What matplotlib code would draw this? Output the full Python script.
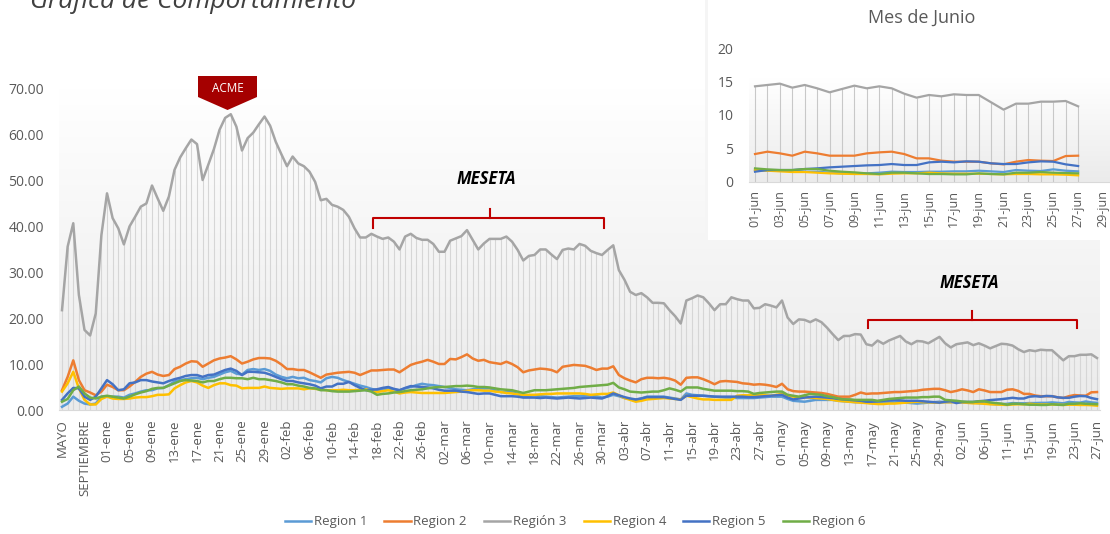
import matplotlib.pyplot as plt
import numpy as np
from matplotlib.patches import Polygon, Rectangle
from matplotlib.colors import LinearSegmentedColormap

plt.rcParams['font.family'] = ['Open Sans', 'DejaVu Sans']

# categorias del eje x
meses = ["MAYO", "JUNIO", "JULIO", "AGOSTO", "SEPTIEMBRE", "OCTUBRE", "NOVIEMBRE", "DICIEMBRE"]
mes_abr = ["ene", "feb", "mar", "abr", "may", "jun"]
dias_mes = [31, 28, 31, 30, 31, 27]
fechas = [f"{d:02d}-{m}" for m, n in zip(mes_abr, dias_mes) for d in range(1, n + 1)]
fechas.remove("10-jun")  # dia sin dato en la grafica principal
categorias = meses + fechas
dias_junio = [f"{d:02d}-jun" for d in range(1, 30)]

# valores hasta el 31-may (indices 0..158)
region3 = [21.7, 35.5, 40.6, 25.0, 17.4, 16.2, 21.0, 38.0, 47.1, 41.7,
           39.5, 36.0, 39.9, 42.0, 44.2, 44.9, 48.8, 46.0, 43.3, 46.4,
           52.2, 54.9, 56.9, 58.8, 57.8, 50.0, 53.3, 56.7, 60.9, 63.5,
           64.3, 61.6, 56.4, 59.1, 60.3, 62.1, 63.8, 61.8, 58.3, 55.6,
           53.0, 55.1, 53.6, 53.0, 51.8, 49.6, 45.6, 45.9, 44.6, 44.2,
           43.5, 42.0, 39.5, 37.5, 37.5, 38.3, 37.7, 37.2, 37.5, 36.6,
           34.9, 37.7, 38.3, 37.4, 37.0, 37.0, 36.1, 34.4, 34.4, 36.8,
           37.3, 37.8, 39.1, 37.0, 34.9, 36.2, 37.2, 37.2, 37.2, 37.7,
           36.6, 34.8, 32.5, 33.5, 33.7, 34.9, 34.9, 33.8, 32.8, 34.8,
           35.1, 34.9, 36.1, 35.7, 34.6, 34.1, 33.7, 34.8, 35.8, 30.4,
           28.3, 25.7, 25.0, 25.4, 24.5, 23.3, 23.3, 23.2, 21.7, 20.4,
           18.8, 23.8, 24.3, 24.9, 24.5, 23.2, 21.7, 23.0, 23.0, 24.5,
           24.1, 23.8, 23.8, 22.1, 22.2, 23.0, 22.7, 22.3, 23.8, 20.1,
           18.7, 19.7, 19.6, 19.1, 19.7, 19.1, 17.9, 16.5, 15.2, 16.1,
           16.1, 16.5, 16.4, 14.3, 14.0, 15.1, 14.4, 15.1, 15.6, 16.1,
           14.9, 14.3, 15.0, 14.9, 14.5, 15.2, 15.9, 14.5, 13.6]
region2 = [4.3, 7.2, 10.8, 6.5, 4.3, 3.8, 3.2, 4.0, 5.5, 5.0,
           4.3, 4.3, 5.1, 6.1, 7.2, 7.9, 8.3, 7.7, 7.4, 7.6,
           8.9, 9.4, 10.1, 10.6, 10.5, 9.4, 10.1, 10.8, 11.2, 11.4,
           11.7, 11.0, 10.1, 10.5, 11.0, 11.3, 11.3, 11.2, 10.7, 9.9,
           8.9, 8.9, 8.7, 8.7, 8.2, 7.6, 7.0, 7.7, 7.9, 8.1,
           8.2, 8.3, 8.1, 7.6, 8.1, 8.6, 8.6, 8.7, 8.8, 8.8,
           8.2, 9.0, 9.8, 10.2, 10.5, 10.9, 10.5, 10.0, 10.0, 11.1,
           11.0, 11.5, 12.1, 11.2, 10.7, 10.9, 10.4, 10.2, 10.0, 10.5,
           10.0, 9.3, 8.2, 8.6, 8.8, 9.0, 8.9, 8.7, 8.2, 9.4,
           9.6, 9.8, 9.7, 9.6, 9.2, 8.7, 9.0, 9.0, 9.5, 7.6,
           6.9, 6.4, 6.0, 6.7, 7.0, 7.0, 6.9, 7.0, 6.8, 6.4,
           5.5, 7.0, 7.1, 7.1, 6.7, 6.2, 5.6, 6.2, 6.3, 6.2,
           6.1, 5.8, 5.7, 5.5, 5.6, 5.5, 5.3, 5.0, 5.7, 4.5,
           4.1, 4.0, 4.0, 3.9, 3.8, 3.7, 3.5, 3.2, 2.9, 2.9,
           2.9, 3.3, 3.8, 3.5, 3.6, 3.6, 3.7, 3.8, 3.9, 3.9,
           4.0, 4.1, 4.2, 4.4, 4.5, 4.6, 4.6, 4.3, 3.9]
region5 = [2.2, 3.6, 4.8, 4.7, 2.9, 2.2, 2.9, 4.7, 6.5, 5.6,
           4.3, 4.5, 5.8, 6.0, 6.5, 6.5, 6.2, 6.0, 5.8, 6.3,
           6.7, 7.0, 7.4, 7.6, 7.6, 7.2, 7.6, 7.7, 8.2, 8.7,
           9.0, 8.5, 7.6, 8.3, 8.3, 8.2, 8.1, 7.7, 7.2, 6.7,
           6.3, 6.3, 6.0, 5.8, 5.6, 5.3, 4.7, 5.1, 5.1, 5.7,
           5.7, 6.1, 5.4, 4.8, 4.3, 4.4, 4.5, 4.8, 5.0, 4.6,
           4.3, 4.8, 5.2, 5.1, 5.0, 4.9, 4.7, 4.4, 4.2, 4.2,
           4.2, 4.0, 3.9, 3.7, 3.5, 3.6, 3.6, 3.3, 3.0, 3.0,
           3.0, 2.9, 2.7, 2.7, 2.7, 2.6, 2.7, 2.6, 2.5, 2.6,
           2.7, 2.6, 2.5, 2.6, 2.7, 2.6, 2.5, 3.0, 3.6, 3.2,
           2.8, 2.5, 2.3, 2.5, 2.8, 2.8, 2.8, 2.8, 2.6, 2.4,
           2.2, 3.1, 3.1, 3.1, 3.1, 3.0, 2.9, 2.9, 2.9, 2.9,
           2.9, 2.9, 2.8, 2.8, 2.9, 3.0, 3.1, 3.2, 3.3, 2.7,
           2.3, 2.5, 2.7, 2.8, 2.9, 2.8, 2.7, 2.6, 2.4, 2.3,
           2.2, 2.1, 2.0, 1.8, 1.8, 1.9, 2.0, 2.1, 2.2, 2.1,
           2.0, 2.0, 2.0, 1.9, 1.8, 1.7, 1.6, 1.8, 1.9]
region1 = [0.7, 1.4, 2.9, 2.0, 1.4, 1.2, 1.4, 2.9, 2.9, 2.9,
           2.9, 2.7, 3.3, 3.6, 4.0, 4.3, 4.3, 4.7, 4.8, 5.4,
           6.2, 6.5, 6.7, 6.9, 7.0, 6.7, 7.0, 7.2, 7.7, 8.2,
           8.5, 7.9, 7.7, 8.7, 8.9, 8.7, 8.9, 8.5, 7.7, 7.2,
           6.9, 7.2, 6.9, 7.0, 6.5, 6.3, 6.0, 6.9, 7.2, 7.0,
           6.5, 6.1, 5.7, 5.3, 5.0, 4.6, 4.3, 4.5, 4.7, 4.5,
           4.3, 4.7, 5.0, 5.4, 5.7, 5.5, 5.4, 5.2, 5.0, 4.8,
           4.5, 4.4, 4.3, 4.5, 4.7, 4.7, 4.7, 4.3, 3.9, 3.9,
           3.9, 3.5, 3.0, 3.1, 3.2, 3.0, 2.9, 2.8, 2.7, 2.8,
           2.9, 3.0, 3.0, 3.1, 3.2, 3.0, 2.7, 2.9, 3.3, 3.0,
           2.6, 2.4, 2.2, 2.5, 2.9, 2.9, 2.9, 2.9, 2.7, 2.5,
           2.3, 3.6, 3.3, 3.2, 3.1, 3.0, 2.9, 2.8, 2.7, 2.7,
           2.6, 2.6, 2.6, 2.6, 2.7, 2.8, 2.9, 2.9, 2.9, 2.4,
           2.0, 1.9, 1.8, 2.0, 2.2, 2.2, 2.2, 2.2, 2.0, 1.9,
           1.8, 1.7, 1.7, 1.6, 1.5, 1.5, 1.6, 1.7, 1.8, 1.7,
           1.6, 1.5, 1.4, 1.5, 1.6, 1.7, 1.8, 1.7, 1.7]
region4 = [4.0, 5.8, 8.3, 4.7, 2.2, 1.2, 1.2, 2.4, 2.9, 2.5,
           2.4, 2.4, 2.5, 2.7, 2.8, 2.8, 3.0, 3.3, 3.3, 3.4,
           4.7, 5.4, 6.0, 6.3, 6.0, 5.3, 4.8, 5.4, 5.8, 5.8,
           5.4, 5.3, 4.7, 4.8, 4.8, 4.8, 5.1, 4.8, 4.7, 4.6,
           4.7, 4.7, 4.7, 4.5, 4.7, 4.6, 4.5, 4.3, 4.3, 4.3,
           4.4, 4.3, 4.3, 4.4, 4.5, 4.2, 3.9, 4.1, 4.3, 4.0,
           3.6, 3.8, 3.9, 3.8, 3.7, 3.7, 3.7, 3.7, 3.7, 3.8,
           3.9, 4.0, 4.2, 4.3, 4.3, 4.2, 4.2, 4.0, 3.9, 3.7,
           3.6, 3.4, 3.3, 3.3, 3.3, 3.4, 3.5, 3.5, 3.6, 3.6,
           3.6, 3.6, 3.6, 3.5, 3.3, 3.4, 3.5, 3.5, 3.8, 3.2,
           2.6, 2.2, 1.8, 2.0, 2.3, 2.4, 2.5, 2.6, 2.5, 2.4,
           2.3, 3.1, 2.8, 2.5, 2.3, 2.3, 2.2, 2.2, 2.2, 2.2,
           3.1, 3.2, 3.2, 3.3, 3.2, 3.2, 3.1, 3.3, 3.5, 3.1,
           2.9, 2.8, 2.8, 2.7, 2.6, 2.5, 2.4, 2.2, 2.0, 1.9,
           1.8, 1.7, 1.6, 1.5, 1.4, 1.3, 1.3, 1.4, 1.4, 1.5,
           1.6, 1.7, 1.8, 1.7, 1.7, 1.6, 1.6, 1.7, 1.7]
region6 = [1.8, 2.4, 4.3, 5.1, 3.6, 2.7, 2.5, 2.9, 3.1, 2.9,
           2.7, 2.5, 2.9, 3.4, 3.8, 4.1, 4.6, 4.8, 4.8, 5.3,
           5.8, 6.3, 6.5, 6.4, 6.3, 6.0, 6.3, 6.3, 6.7, 7.0,
           7.0, 6.9, 6.9, 6.7, 7.0, 6.7, 6.7, 6.5, 6.3, 6.0,
           5.6, 5.6, 5.3, 5.1, 4.8, 4.7, 4.3, 4.3, 4.1, 4.0,
           4.0, 4.0, 4.1, 4.2, 4.3, 4.0, 3.3, 3.5, 3.6, 3.8,
           3.9, 4.1, 4.3, 4.4, 4.5, 4.7, 4.9, 5.0, 5.0, 5.1,
           5.2, 5.2, 5.3, 5.2, 5.0, 5.0, 4.9, 4.7, 4.5, 4.4,
           4.3, 4.0, 3.7, 4.0, 4.3, 4.3, 4.3, 4.4, 4.5, 4.6,
           4.7, 4.8, 5.0, 5.1, 5.2, 5.3, 5.4, 5.5, 5.9, 4.9,
           4.5, 4.0, 3.9, 3.8, 3.9, 4.0, 4.0, 4.3, 4.7, 4.4,
           4.0, 4.9, 4.9, 4.9, 4.6, 4.4, 4.2, 4.2, 4.2, 4.2,
           4.1, 4.1, 4.0, 3.5, 3.7, 3.8, 3.9, 4.0, 4.0, 3.3,
           3.1, 2.9, 3.2, 3.5, 3.4, 3.3, 3.0, 2.8, 2.5, 2.3,
           2.3, 2.2, 2.2, 2.2, 2.2, 2.0, 2.2, 2.4, 2.5, 2.6,
           2.7, 2.7, 2.7, 2.8, 2.8, 2.9, 2.9, 2.2, 2.1]

# mes de junio (01-jun .. 27-jun)
jun_r1 = [1.75, 1.65, 1.65, 1.6, 1.5, 1.5, 1.35, 1.25, 1.25, 1.25, 1.35, 1.5, 1.45, 1.45,
          1.5, 1.5, 1.55, 1.55, 1.65, 1.55, 1.45, 1.75, 1.65, 1.6, 1.85, 1.65, 1.55]
jun_r2 = [4.15, 4.5, 4.25, 3.9, 4.5, 4.25, 3.9, 3.9, 3.9, 4.25, 4.4, 4.5, 4.15, 3.5,
          3.5, 3.15, 3.0, 3.0, 3.0, 2.75, 2.6, 3.0, 3.25, 3.15, 3.1, 3.85, 3.9]
jun_r3 = [14.3, 14.5, 14.7, 14.1, 14.5, 14.0, 13.4, 13.9, 14.4, 14.0, 14.3, 14.0, 13.2, 12.6,
          13.0, 12.8, 13.1, 13.0, 13.0, 11.9, 10.8, 11.7, 11.7, 12.0, 12.0, 12.1, 11.3]
jun_r4 = [1.75, 1.65, 1.55, 1.45, 1.45, 1.35, 1.25, 1.2, 1.15, 1.15, 1.1, 1.2, 1.25, 1.25,
          1.35, 1.25, 1.2, 1.2, 1.2, 1.15, 1.1, 1.15, 1.15, 1.1, 1.1, 1.05, 0.95]
jun_r5 = [1.5, 1.75, 1.75, 1.75, 1.9, 2.0, 2.15, 2.25, 2.35, 2.45, 2.5, 2.65, 2.5, 2.5,
          2.9, 3.0, 2.9, 3.05, 3.0, 2.75, 2.65, 2.65, 2.9, 3.05, 3.0, 2.6, 2.35]
jun_r6 = [2.0, 1.85, 1.75, 1.75, 1.9, 1.9, 1.65, 1.5, 1.4, 1.25, 1.15, 1.35, 1.35, 1.25,
          1.15, 1.15, 1.1, 1.1, 1.25, 1.15, 1.1, 1.35, 1.35, 1.45, 1.35, 1.3, 1.25]

nombres = ["Region 1", "Region 2", "Región 3", "Region 4", "Region 5", "Region 6"]
colores = ["#5B9BD5", "#ED7D31", "#A5A5A5", "#FFC000", "#4472C4", "#70AD47"]
previos = [region1, region2, region3, region4, region5, region6]
junio = [jun_r1, jun_r2, jun_r3, jun_r4, jun_r5, jun_r6]
sin_dato = 9  # 10-jun

series = [p + [v for k, v in enumerate(j) if k != sin_dato] for p, j in zip(previos, junio)]

W, H = 1110, 534
fig = plt.figure(figsize=(W / 100, H / 100), dpi=100)


def fx(px):
    return px / W


def fy(py):
    return 1 - py / H


fondo = LinearSegmentedColormap.from_list("fondo", ["#EBEBEB", "#FFFFFF"])
grad = np.linspace(0, 1, 256).reshape(-1, 1)
texto = "#595959"

# ---- grafica principal ----
ax = fig.add_axes([fx(59.2), fy(410), fx(1099.8) - fx(59.2), fy(88) - fy(410)], zorder=0)
x = np.arange(len(categorias))
ax.imshow(grad, extent=(-0.5, len(x) - 0.5, 0, 70), origin="lower", cmap=fondo,
          aspect="auto", zorder=0)
ax.vlines(x, 0, series[2], colors="#D6D6D6", lw=0.8, zorder=1)
for s, nom, col in zip(series, nombres, colores):
    ax.plot(x, s, color=col, lw=1.8, label=nom, zorder=3 if nom != "Región 3" else 2,
            solid_joinstyle="round")

ax.set_xlim(-0.5, len(x) - 0.5)
ax.set_ylim(0, 70)
ax.set_xticks(x[::4])
ax.set_xticklabels(categorias[::4], rotation=90, fontsize=9.5, color=texto)
ax.set_yticks(range(0, 80, 10))
ax.set_yticklabels([f"{v:.2f}" for v in range(0, 80, 10)], fontsize=10, color=texto)
ax.tick_params(axis="x", length=0, pad=7)
ax.tick_params(axis="y", length=0, pad=11)
for lado in ["top", "right", "left"]:
    ax.spines[lado].set_visible(False)
ax.spines["bottom"].set_color("#D9D9D9")

# llaves MESETA
rojo = "#C00000"
for x0, x1, xc, yb, ye, yt, ytxt in [(55.3, 96.4, 76.0, 41.7, 39.5, 43.8, 50.2),
                                     (143.3, 180.4, 161.8, 19.6, 17.8, 21.6, 27.6)]:
    ax.plot([x0, x0, x1, x1], [ye, yb, yb, ye], color=rojo, lw=1.5, zorder=4)
    ax.plot([xc, xc], [yb, yt], color=rojo, lw=1.5, zorder=4)
    ax.text(xc - 0.5, ytxt, "MESETA", fontsize=12, style="italic", weight="bold",
            ha="center", va="center", color="black", zorder=4)

# marca ACME
acme = Polygon([(fx(198), fy(76)), (fx(257), fy(76)), (fx(257), fy(97)),
                (fx(227.5), fy(110)), (fx(198), fy(97))],
               closed=True, transform=fig.transFigure, facecolor="#A50000",
               edgecolor="none", zorder=5)
fig.patches.append(acme)
fig.text(fx(227.5), fy(88), "ACME", color="white", fontsize=8.5, ha="center",
         va="center", zorder=6)

fig.text(fx(30), fy(8), "Grafica de Comportamiento", fontsize=19, style="italic",
         color="#404040", va="baseline")

# ---- recuadro mes de junio ----
tarjeta = Rectangle((fx(708), fy(240)), fx(1110) - fx(708), fy(0) - fy(240),
                    transform=fig.transFigure, facecolor="white", edgecolor="none", zorder=2)
fig.patches.append(tarjeta)
sombra = Rectangle((fx(705), fy(240)), fx(3), fy(0) - fy(240),
                   transform=fig.transFigure, facecolor="#F5F5F5", edgecolor="none", zorder=2)
fig.patches.append(sombra)

ax2 = fig.add_axes([fx(748.8), fy(181.7), fx(1109.2) - fx(748.8), fy(48.3) - fy(181.7)], zorder=3)
x2 = np.arange(len(dias_junio))
xj = np.arange(len(jun_r3))
ax2.imshow(grad, extent=(-0.5, len(x2) - 0.5, 0, 15.5), origin="lower", cmap=fondo,
           aspect="auto", zorder=0)
ax2.vlines(xj, 0, jun_r3, colors="#C8C8C8", lw=0.8, zorder=1)
for s, col in zip(junio, colores):
    ax2.plot(xj, s, color=col, lw=1.6, zorder=3)
ax2.set_xlim(-0.5, len(x2) - 0.5)
ax2.set_ylim(0, 20)
ax2.set_xticks(x2[::2])
ax2.set_xticklabels(dias_junio[::2], rotation=90, fontsize=9, color=texto)
ax2.set_yticks(range(0, 25, 5))
ax2.set_yticklabels([str(v) for v in range(0, 25, 5)], fontsize=10, color=texto)
ax2.tick_params(axis="x", length=0, pad=6)
ax2.tick_params(axis="y", length=0, pad=11)
ax2.patch.set_alpha(0)
for lado in ["top", "right", "left"]:
    ax2.spines[lado].set_visible(False)
ax2.spines["bottom"].set_color("#D9D9D9")
fig.text(fx(922), fy(18), "Mes de Junio", fontsize=13, color=texto, ha="center", va="center")

# leyenda
fig.legend(*ax.get_legend_handles_labels(), loc="center", ncol=6,
           bbox_to_anchor=(fx(575), fy(522)), frameon=False, fontsize=9.5,
           handlelength=2.0, columnspacing=1.3, handletextpad=0.2,
           labelcolor=texto)

fig.savefig("out.png", dpi=100)
